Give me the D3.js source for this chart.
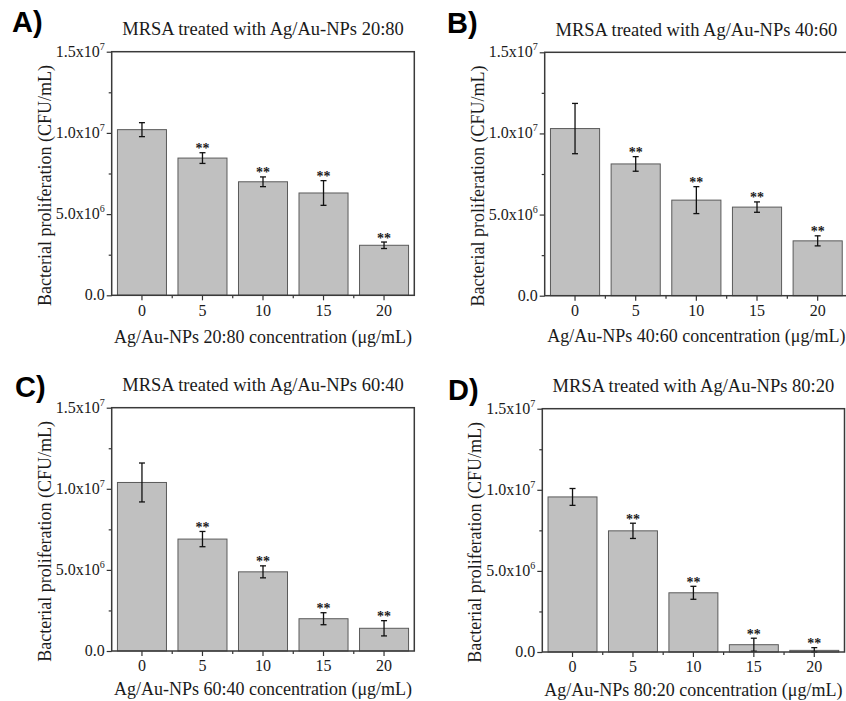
<!DOCTYPE html>
<html>
<head>
<meta charset="utf-8">
<script src="https://cdn.jsdelivr.net/npm/d3@7"></script>
<style>
  body { margin: 0; background: #fff; }
  svg { display: block; }
  text { font-family: "Liberation Serif", "Times New Roman", serif; fill: #1a1a1a; }
  .letter { font-family: "Liberation Sans", Arial, sans-serif; font-weight: bold; font-size: 29px; fill: #000; }
</style>
</head>
<body>
<svg width="846" height="701"></svg>
<script>
// data ================================================================

var doses = ["0", "5", "10", "15", "20"];
var ratios = ["20:80", "40:60", "60:40", "80:20"];
var letters = ["A)", "B)", "C)", "D)"];

var meansA = [1.02e7, 8.45e6, 6.99e6, 6.30e6, 3.08e6];
var errA   = [4.3e5, 3.3e5, 3.0e5, 7.6e5, 2.0e5];
var meansB = [1.03e7, 8.12e6, 5.89e6, 5.46e6, 3.38e6];
var errB   = [1.55e6, 4.5e5, 8.3e5, 3.2e5, 3.1e5];
var meansC = [1.039e7, 6.90e6, 4.88e6, 1.99e6, 1.40e6];
var errC   = [1.2e6, 4.7e5, 3.7e5, 3.7e5, 4.7e5];
var meansD = [9.56e6, 7.47e6, 3.65e6, 4.5e5, 1.0e5];
var errD   = [5.2e5, 4.7e5, 4.0e5, 4.0e5, 1.7e5];
var signif = ["", "**", "**", "**", "**"];

var yTicks = [0, 5e6, 1e7, 1.5e7];
var yMinor = [2.5e6, 7.5e6, 1.25e7];
var yTickBase = ["0.0", "5.0x10", "1.0x10", "1.5x10"];
var yTickExp = ["", "6", "7", "7"];

// layout of the four panels =========================================

var panels = [
  { means: meansA, errs: errA, left: 111.7, right: 414.3, top: 51.7, bottom: 295.3, lx: 12, ly: 32, xlab: 343 },
  { means: meansB, errs: errB, left: 544.7, right: 848, top: 52.3, bottom: 295.7, lx: 447, ly: 33, xlab: 342 },
  { means: meansC, errs: errC, left: 111.7, right: 414.3, top: 407.7, bottom: 651, lx: 15, ly: 397, xlab: 695 },
  { means: meansD, errs: errD, left: 542.3, right: 844.5, top: 408.7, bottom: 652, lx: 448, ly: 400, xlab: 696 }
];

var svg = d3.select("svg");

function drawPanel(p, i) {
  var g = svg.append("g").attr("class", "panel");

  var x = d3.scaleBand().domain(doses)
      .range([p.left, p.right])
      .paddingInner(0.19).paddingOuter(0.095);
  var y = d3.scaleLinear().domain([0, 1.5e7]).range([p.bottom, p.top]);
  var step = x.step();

  // bars
  g.selectAll("rect.bar")
    .data(p.means)
    .enter().append("rect")
      .attr("class", "bar")
      .attr("x", function(d, j) { return x(doses[j]); })
      .attr("y", function(d) { return y(d); })
      .attr("width", x.bandwidth())
      .attr("height", function(d) { return y(0) - y(d); })
      .attr("fill", "#c0c0c0")
      .attr("stroke", "#5a5a5a")
      .attr("stroke-width", 1);

  // error bars
  var eb = g.selectAll("g.err")
    .data(p.means)
    .enter().append("g")
      .attr("class", "err")
      .attr("stroke", "#111")
      .attr("stroke-width", 1.3);
  eb.append("line")
    .attr("x1", function(d, j) { return x(doses[j]) + x.bandwidth() / 2; })
    .attr("x2", function(d, j) { return x(doses[j]) + x.bandwidth() / 2; })
    .attr("y1", function(d, j) { return y(d + p.errs[j]); })
    .attr("y2", function(d, j) { return y(Math.max(0, d - p.errs[j])); });
  [1, -1].forEach(function(sgn) {
    eb.append("line")
      .attr("x1", function(d, j) { return x(doses[j]) + x.bandwidth() / 2 - 3; })
      .attr("x2", function(d, j) { return x(doses[j]) + x.bandwidth() / 2 + 3; })
      .attr("y1", function(d, j) { return y(Math.max(0, d + sgn * p.errs[j])); })
      .attr("y2", function(d, j) { return y(Math.max(0, d + sgn * p.errs[j])); });
  });

  // significance stars
  g.selectAll("text.star")
    .data(p.means)
    .enter().append("text")
      .attr("class", "star")
      .attr("x", function(d, j) { return x(doses[j]) + x.bandwidth() / 2; })
      .attr("y", function(d, j) { return y(d + p.errs[j]) + 0.5; })
      .attr("text-anchor", "middle")
      .style("font-size", "14px")
      .style("font-weight", "bold")
      .attr("fill", "#222")
      .text(function(d, j) { return signif[j]; });

  // y axis
  var yAxis = g.append("g")
    .attr("transform", "translate(" + p.left + ",0)")
    .call(d3.axisLeft(y).tickValues(yTicks).tickSize(5).tickFormat(""));
  yAxis.select(".domain").remove();
  yAxis.selectAll("line").attr("stroke", "#333").attr("stroke-width", 1.2);
  g.append("g")
    .attr("transform", "translate(" + p.left + ",0)")
    .call(d3.axisLeft(y).tickValues(yMinor).tickSize(3).tickFormat(""))
    .call(function(s) {
      s.select(".domain").remove();
      s.selectAll("line").attr("stroke", "#333").attr("stroke-width", 1.2);
    });

  var yl = g.selectAll("text.ytick")
    .data(yTicks)
    .enter().append("text")
      .attr("class", "ytick")
      .attr("x", p.left - 7)
      .attr("y", function(d) { return y(d) + 5; })
      .attr("text-anchor", "end")
      .style("font-size", "16px");
  yl.append("tspan").text(function(d, j) { return yTickBase[j]; });
  yl.append("tspan")
    .attr("dy", -7)
    .style("font-size", "10px")
    .text(function(d, j) { return yTickExp[j]; });

  // x axis
  var xAxis = g.append("g")
    .attr("transform", "translate(0," + p.bottom + ")")
    .call(d3.axisBottom(x).tickSize(5).tickPadding(4));
  xAxis.select(".domain").remove();
  xAxis.selectAll("line").attr("stroke", "#333").attr("stroke-width", 1.2);
  xAxis.selectAll("text")
    .style("font-family", "Liberation Serif, serif")
    .style("font-size", "16px")
    .attr("fill", "#1a1a1a");

  // minor ticks between categories
  g.selectAll("line.xminor")
    .data(doses.slice(1))
    .enter().append("line")
      .attr("class", "xminor")
      .attr("x1", function(d) { return x(d) - step * 0.095; })
      .attr("x2", function(d) { return x(d) - step * 0.095; })
      .attr("y1", p.bottom)
      .attr("y2", p.bottom + 3)
      .attr("stroke", "#333")
      .attr("stroke-width", 1.2);

  // frame
  g.append("rect")
    .attr("x", p.left).attr("y", p.top)
    .attr("width", p.right - p.left).attr("height", p.bottom - p.top)
    .attr("fill", "none")
    .attr("stroke", "#3a3a3a")
    .attr("stroke-width", 1.5);

  // titles and labels
  var cx = (p.left + p.right) / 2;
  g.append("text")
    .attr("x", cx).attr("y", p.top - 16.5)
    .attr("text-anchor", "middle")
    .style("font-size", "18.5px")
    .text("MRSA treated with Ag/Au-NPs " + ratios[i]);

  g.append("text")
    .attr("x", cx).attr("y", p.xlab)
    .attr("text-anchor", "middle")
    .style("font-size", "18px")
    .text("Ag/Au-NPs " + ratios[i] + " concentration (\u03bcg/mL)");

  g.append("text")
    .attr("transform", "translate(" + (p.left - 61) + "," + ((p.top + p.bottom) / 2 + 12) + ") rotate(-90)")
    .attr("text-anchor", "middle")
    .style("font-size", "18px")
    .text("Bacterial proliferation (CFU/mL)");

  g.append("text")
    .attr("class", "letter")
    .attr("x", p.lx).attr("y", p.ly)
    .text(letters[i]);
}

panels.forEach(drawPanel);
</script>
</body>
</html>
